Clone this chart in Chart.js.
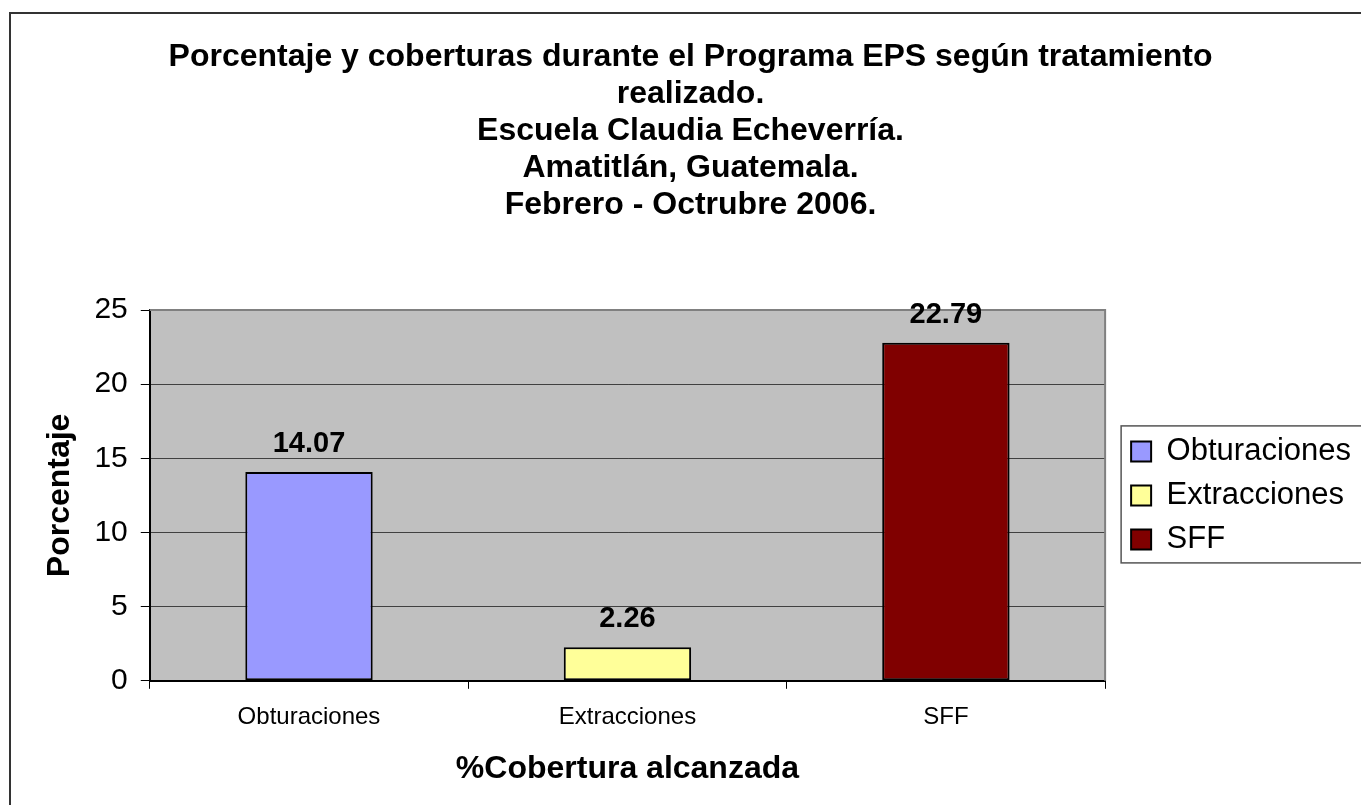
<!DOCTYPE html>
<html>
<head>
<meta charset="utf-8">
<script src="https://cdn.jsdelivr.net/npm/chart.js@4"></script>
<style>
  html, body { margin: 0; padding: 0; background: #fff; overflow: hidden; }
  #wrap { width: 1361px; height: 805px; position: relative; }
</style>
</head>
<body>
<div id="wrap"><canvas id="barChart"></canvas></div>
<script>
const categories = ['Obturaciones', 'Extracciones', 'SFF'];
const values = [14.07, 2.26, 22.79];
const barColors = ['#9999FF', '#FFFF99', '#800000'];
const yTicks = [0, 5, 10, 15, 20, 25];
const titleLines = [
    'Porcentaje y coberturas durante el Programa EPS según tratamiento',
    'realizado.',
    'Escuela Claudia Echeverría.',
    'Amatitlán, Guatemala.',
    'Febrero - Octrubre 2006.'
];

const FONT = "'Liberation Sans', Arial, sans-serif";

// gray plot area, gray top/right border, outer frame, legend frame, value labels
const excelLook = {
    id: 'excelLook',
    beforeDraw(chart) {
        const { ctx, chartArea: a } = chart;
        ctx.save();
        ctx.fillStyle = '#C0C0C0';
        ctx.fillRect(a.left, a.top, a.right - a.left, a.bottom - a.top);
        ctx.restore();
    },
    beforeDatasetsDraw(chart) {
        const { ctx, chartArea: a } = chart;
        ctx.save();
        ctx.strokeStyle = '#808080';
        ctx.lineWidth = 2;
        ctx.beginPath();
        ctx.moveTo(a.left, a.top);
        ctx.lineTo(a.right, a.top);
        ctx.lineTo(a.right, a.bottom);
        ctx.stroke();
        ctx.restore();
    },
    afterDatasetsDraw(chart) {
        const { ctx } = chart;
        const meta = chart.getDatasetMeta(0);
        ctx.save();
        ctx.font = 'bold 29px ' + FONT;
        ctx.fillStyle = '#000';
        ctx.textAlign = 'center';
        ctx.textBaseline = 'alphabetic';
        meta.data.forEach((bar, i) => {
            ctx.fillText(values[i].toFixed(2), bar.x, bar.y - 20);
        });
        ctx.restore();
    },
    afterDraw(chart) {
        const { ctx } = chart;
        ctx.save();
        ctx.strokeStyle = '#333';
        ctx.lineWidth = 2;
        ctx.strokeRect(10, 13, 2000, 2000);
        const boxes = chart.legend.legendHitBoxes;
        if (boxes && boxes.length) {
            const first = boxes[0], last = boxes[boxes.length - 1];
            ctx.strokeStyle = '#555';
            ctx.lineWidth = 1.5;
            ctx.strokeRect(first.left - 10, first.top - 10, 2000, last.top + last.height + 18 - first.top);
        }
        ctx.restore();
    }
};

const chart = new Chart(document.getElementById('barChart').getContext('2d'), {
    type: 'bar',
    data: {
        labels: categories,
        datasets: [{
            label: '%Cobertura alcanzada',
            data: values,
            backgroundColor: barColors,
            borderColor: '#000',
            borderWidth: 2,
            borderSkipped: false,
            barPercentage: 0.4,
            categoryPercentage: 1
        }]
    },
    options: {
        responsive: true,
        maintainAspectRatio: false,
        animation: false,
        layout: { padding: { left: 20, right: 0, top: 0, bottom: 0 } },
        plugins: {
            title: {
                display: true,
                text: titleLines,
                color: '#000',
                font: { family: FONT, size: 32, weight: 'bold', lineHeight: 37 / 32 },
                padding: { top: 39, bottom: 86 }
            },
            legend: {
                display: true,
                position: 'right',
                fullSize: false,
                labels: {
                    color: '#000',
                    font: { family: FONT, size: 31 },
                    boxWidth: 20,
                    boxHeight: 20,
                    padding: 13,
                    generateLabels: () => categories.map((c, i) => ({
                        text: c,
                        fillStyle: barColors[i],
                        strokeStyle: '#000',
                        lineWidth: 2,
                        fontColor: '#000',
                        index: i
                    }))
                },
                onClick: () => {}
            },
            tooltip: { enabled: false }
        },
        scales: {
            x: {
                offset: true,
                grid: { display: true, drawOnChartArea: false, tickLength: 8, color: '#000', offset: true },
                border: { display: true, color: '#000', width: 2 },
                ticks: { color: '#000', font: { family: FONT, size: 24 }, padding: 14 },
                title: {
                    display: true,
                    text: '%Cobertura alcanzada',
                    color: '#000',
                    font: { family: FONT, size: 32, weight: 'bold' },
                    padding: { top: 4, bottom: 17 }
                }
            },
            y: {
                min: 0,
                max: 25,
                afterBuildTicks: (scale) => { scale.ticks = yTicks.map(v => ({ value: v })); },
                grid: { color: '#404040', lineWidth: 1, tickLength: 9, tickColor: '#000' },
                border: { display: true, color: '#000', width: 2 },
                ticks: { color: '#000', font: { family: FONT, size: 30 }, padding: 13 },
                title: {
                    display: true,
                    text: 'Porcentaje',
                    color: '#000',
                    font: { family: FONT, size: 32, weight: 'bold' },
                    padding: { top: 21, bottom: 2 }
                }
            },
            gap: {
                type: 'linear',
                position: 'right',
                display: false,
                afterFit: (scale) => { scale.width = 13; }
            }
        }
    },
    plugins: [excelLook]
});
</script>
</body>
</html>
